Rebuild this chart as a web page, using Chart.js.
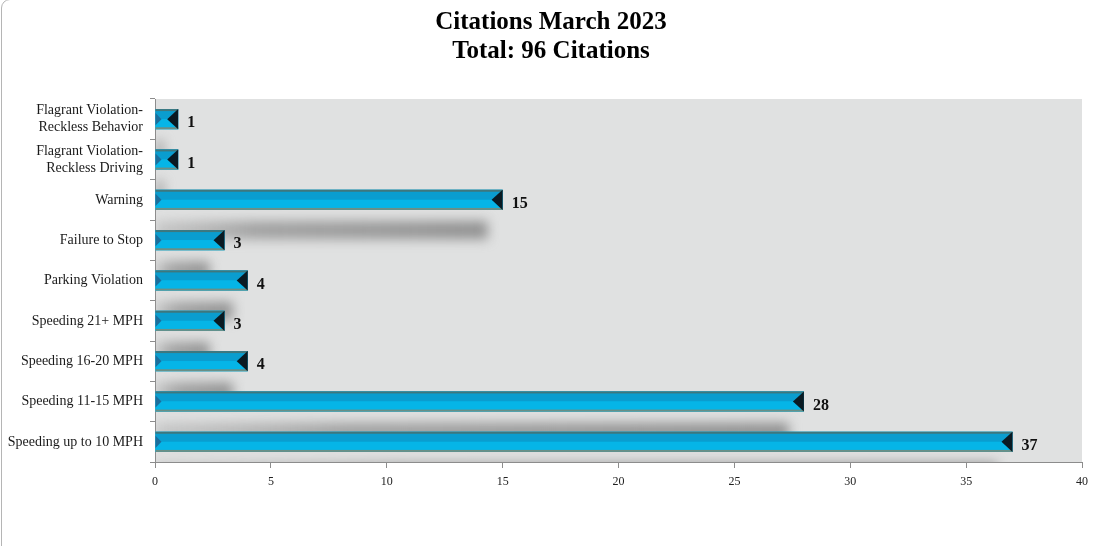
<!DOCTYPE html>
<html>
<head>
<meta charset="utf-8">
<script src="https://cdn.jsdelivr.net/npm/chart.js@4/dist/chart.umd.min.js"></script>
<style>
  html, body { margin: 0; padding: 0; background: #fff; overflow: hidden; }
  #wrap { position: relative; width: 1095px; height: 546px; }
  #frame { position: absolute; left: 1px; top: -1px; width: 1200px; height: 700px;
           border: 1px solid #b5b5b5; border-radius: 9px; box-sizing: border-box; }
  canvas { position: absolute; left: 0; top: 0; }
</style>
</head>
<body>
<div id="wrap">
  <div id="frame"></div>
  <canvas id="c" width="1095" height="546"></canvas>
</div>
<script>
const titleLines = ["Citations March 2023", "Total: 96 Citations"];
const categories = [
  ["Flagrant Violation-", "Reckless Behavior"],
  ["Flagrant Violation-", "Reckless Driving"],
  "Warning",
  "Failure to Stop",
  "Parking Violation",
  "Speeding 21+ MPH",
  "Speeding 16-20 MPH",
  "Speeding 11-15 MPH",
  "Speeding up to 10 MPH"
];
const citations = [1, 1, 15, 3, 4, 3, 4, 28, 37];
const xTicks = [0, 5, 10, 15, 20, 25, 30, 35, 40];

const SERIF = "'Liberation Serif', 'DejaVu Serif', serif";

const decorPlugin = {
  id: 'decor',
  beforeDraw(chart) {
    const { ctx, chartArea: a } = chart;
    ctx.save();
    ctx.fillStyle = '#e0e1e1';
    ctx.fillRect(a.left, a.top, a.right - a.left, a.bottom - a.top);
    ctx.restore();
  },
  beforeDatasetsDraw(chart) {
    const { ctx, chartArea: a } = chart;
    const meta = chart.getDatasetMeta(0);
    ctx.save();
    ctx.beginPath();
    ctx.rect(a.left, a.top, a.right - a.left, a.bottom - a.top);
    ctx.clip();
    ctx.filter = 'blur(6px)';
    meta.data.forEach(el => {
      const h = el.height;
      const x0 = el.base;
      const x1 = el.x - 15;
      if (x1 <= x0) return;
      const yc = el.y + h * 1.5;
      const g = ctx.createLinearGradient(x0, 0, x1, 0);
      g.addColorStop(0, 'rgba(160,160,160,0.4)');
      g.addColorStop(0.3, 'rgba(135,135,135,0.7)');
      g.addColorStop(1, 'rgba(125,125,125,0.8)');
      ctx.fillStyle = g;
      ctx.fillRect(x0, yc - h * 0.45, x1 - x0, h * 0.9);
    });
    ctx.restore();
  },
  afterDatasetsDraw(chart) {
    const { ctx } = chart;
    const meta = chart.getDatasetMeta(0);
    ctx.save();
    meta.data.forEach((el, i) => {
      const h = el.height;
      const top = el.y - h / 2, bot = el.y + h / 2;
      const x0 = el.base, x1 = el.x;
      const w = x1 - x0;
      ctx.fillStyle = '#0a9dcf';
      ctx.fillRect(x0, top, w, h / 2);
      ctx.fillStyle = '#05b5e7';
      ctx.fillRect(x0, el.y, w, h / 2);
      ctx.fillStyle = '#3f777d';
      ctx.fillRect(x0, top, w, 2);
      ctx.fillStyle = '#6a8f86';
      ctx.fillRect(x0, bot - 2, w, 2);
      ctx.fillStyle = '#1d6e9c';
      ctx.beginPath();
      ctx.moveTo(x0, el.y - h * 0.3);
      ctx.lineTo(x0 + 6, el.y);
      ctx.lineTo(x0, el.y + h * 0.3);
      ctx.closePath();
      ctx.fill();
      ctx.fillStyle = '#0a1a22';
      ctx.beginPath();
      ctx.moveTo(x1, top);
      ctx.lineTo(x1 - 11, el.y);
      ctx.lineTo(x1, bot);
      ctx.closePath();
      ctx.fill();
      ctx.fillStyle = '#111';
      ctx.font = "bold 16px " + SERIF;
      ctx.textAlign = 'left';
      ctx.textBaseline = 'middle';
      ctx.fillText(String(citations[i]), x1 + 9, el.y + 4);
    });
    ctx.restore();
  },
  afterDraw(chart) {
    const { ctx } = chart;
    ctx.save();
    ctx.fillStyle = '#000';
    ctx.font = "bold 25px " + SERIF;
    ctx.textAlign = 'center';
    ctx.textBaseline = 'middle';
    titleLines.forEach((t, k) => ctx.fillText(t, 551, 23 + k * 29));
    ctx.restore();
  }
};

new Chart(document.getElementById('c'), {
  type: 'bar',
  data: {
    labels: categories,
    datasets: [{
      data: citations,
      backgroundColor: '#05b5e7',
      borderWidth: 0,
      barPercentage: 0.5,
      categoryPercentage: 1.0
    }]
  },
  options: {
    indexAxis: 'y',
    responsive: false,
    animation: false,
    devicePixelRatio: 1,
    layout: { padding: { left: 0, right: 9, top: 99, bottom: 0 } },
    plugins: {
      legend: { display: false },
      tooltip: { enabled: false },
      title: { display: false }
    },
    scales: {
      x: {
        min: 0, max: 40,
        afterBuildTicks(scale) { scale.ticks = xTicks.map(v => ({ value: v })); },
        afterFit(scale) { scale.height = 84; },
        border: { display: true, color: '#8c8c8c', width: 1 },
        grid: { display: true, drawOnChartArea: false, drawTicks: true, tickLength: 6, color: '#8c8c8c' },
        ticks: { color: '#222', font: { family: SERIF, size: 12 }, padding: 7, maxRotation: 0 }
      },
      y: {
        afterFit(scale) { scale.width = 155; },
        border: { display: true, color: '#8c8c8c', width: 1 },
        grid: { display: true, offset: true, drawOnChartArea: false, drawTicks: true, tickLength: 5, color: '#8c8c8c' },
        ticks: { color: '#1a1a1a', font: { family: SERIF, size: 14, lineHeight: 1.2 }, padding: 7, autoSkip: false }
      }
    }
  },
  plugins: [decorPlugin]
});
</script>
</body>
</html>
